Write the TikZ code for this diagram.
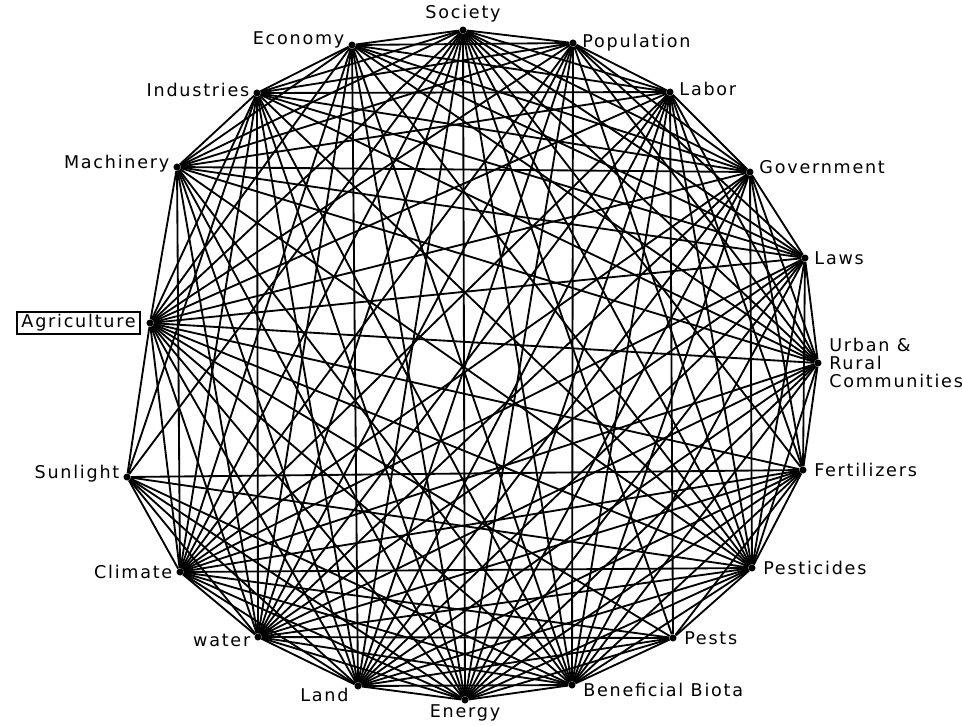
\documentclass[tikz,border=0pt]{standalone}
\usepackage{fontspec}
\setmainfont{DejaVu Sans}[LetterSpace=10]
\usetikzlibrary{positioning}

\tikzset{
  hub/.style={circle,fill=black,inner sep=0pt,minimum size=4pt},
  tag/.style={inner sep=1pt,font=\fontsize{10}{10}\selectfont},
  link/.style={line width=1.05pt},
}

\begin{document}
\begin{tikzpicture}[x=0.02cm,y=-0.02cm]
  \useasboundingbox (0,0) rectangle (963,725);

  % points round the ring
  \node[hub] (soc) at (463,30) {};
  \node[hub] (pop) at (573,43) {};
  \node[hub] (lab) at (670,92) {};
  \node[hub] (gov) at (750,172) {};
  \node[hub] (law) at (805,258) {};
  \node[hub] (urb) at (818,363) {};
  \node[hub] (fer) at (803,470) {};
  \node[hub] (pes) at (752,568) {};
  \node[hub] (pst) at (673,638) {};
  \node[hub] (bio) at (572,685) {};
  \node[hub] (ene) at (465,700) {};
  \node[hub] (lnd) at (358,686) {};
  \node[hub] (wat) at (258,637) {};
  \node[hub] (cli) at (180,572) {};
  \node[hub] (sun) at (127,477) {};
  \node[hub] (agr) at (150,323) {};
  \node[hub] (mac) at (177,167) {};
  \node[hub] (ind) at (257,93) {};
  \node[hub] (eco) at (352,45) {};

  % names
  \node[tag,above=1pt of soc] {Society};
  \node[tag,right=2pt of pop] {Population};
  \node[tag,right=2pt of lab,yshift=2pt] {Labor};
  \node[tag,right=2pt of gov,yshift=3pt] {Government};
  \node[tag,right=2pt of law] {Laws};
  \node[tag,right=3pt of urb,align=left] {Urban \&\\Rural\\Communities};
  \node[tag,right=3pt of fer] {Fertilizers};
  \node[tag,right=3pt of pes] {Pesticides};
  \node[tag,right=3pt of pst] {Pests};
  \node[tag,right=3pt of bio,yshift=-3pt] {Beneficial Biota};
  \node[tag,below=0pt of ene,inner sep=0pt] {Energy};
  \node[tag,left=2pt of lnd,yshift=-5pt] {Land};
  \node[tag,left=1pt of wat,yshift=-2pt] {water};
  \node[tag,left=1pt of cli] {Climate};
  \node[tag,left=1pt of sun,yshift=2pt] {Sunlight};
  \node[tag,left=3pt of agr,draw,line width=0.9pt,inner xsep=2.5pt,inner ysep=1.5pt] {Agriculture};
  \node[tag,left=1pt of mac,yshift=2pt] {Machinery};
  \node[tag,left=1pt of ind,yshift=2pt] {Industries};
  \node[tag,left=1pt of eco,yshift=3pt] {Economy};

  % connections
  \foreach \src/\dsts in {
    soc/{pop,lab,gov,law,urb,fer,pes,pst,bio,ene,lnd,wat,cli,sun,agr,mac,ind,eco},
    pop/{lab,gov,law,urb,pes,bio,ene,lnd,wat,cli,agr,mac,ind,eco},
    lab/{gov,urb,fer,pes,pst,bio,ene,lnd,wat,cli,agr,mac,ind,eco},
    gov/{law,urb,fer,pes,bio,ene,lnd,wat,cli,agr,mac,ind,eco},
    law/{urb,fer,pes,bio,ene,lnd,wat,cli,agr,mac,ind,eco},
    urb/{fer,pes,bio,ene,lnd,wat,cli,agr,mac,ind,eco},
    fer/{pes,pst,bio,ene,lnd,wat,cli,sun,agr},
    pes/{pst,bio,ene,lnd,wat,cli,sun,agr,mac,ind,eco},
    pst/{bio,ene,lnd,wat,cli,agr},
    bio/{ene,lnd,wat,cli,sun,agr,mac,ind,eco},
    ene/{lnd,wat,cli,sun,agr,mac,ind,eco},
    lnd/{wat,cli,sun,agr,mac,ind,eco},
    wat/{cli,sun,agr,mac,ind,eco},
    cli/{sun,agr,mac,ind,eco},
    sun/{agr,ind},
    agr/{mac,ind,eco},
    mac/{ind,eco},
    ind/{eco}}
  {
    \foreach \dst in \dsts
      \draw[link] (\src) -- (\dst);
  }
\end{tikzpicture}
\end{document}
